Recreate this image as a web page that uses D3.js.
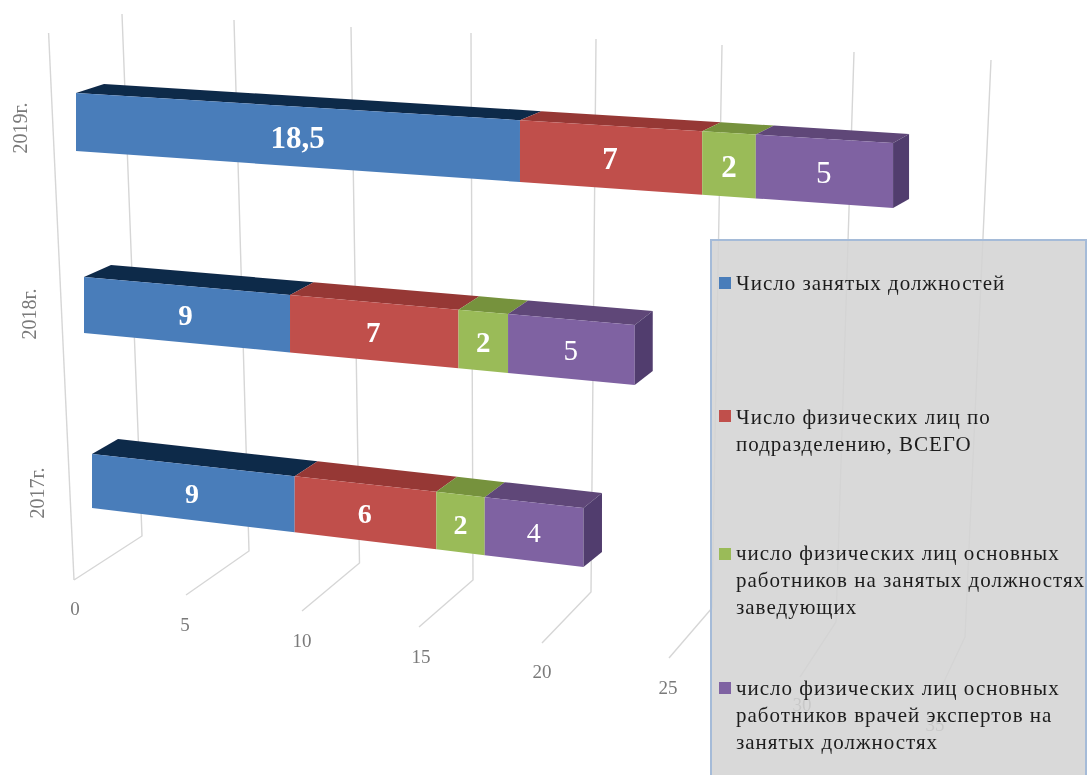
<!DOCTYPE html>
<html><head><meta charset="utf-8">
<script src="https://cdn.jsdelivr.net/npm/d3@7/dist/d3.min.js"></script>
<style>html,body{margin:0;padding:0;background:#fff;overflow:hidden}svg{display:block}text{font-family:"Liberation Serif",serif}</style>
</head><body><svg id="c" width="1088" height="775"></svg>
<script>
// Data
const years = ["2017г.", "2018г.", "2019г."];
const seriesNames = ["Число занятых должностей","Число физических лиц по подразделению, ВСЕГО","число физических лиц основных работников на занятых должностях заведующих","число физических лиц основных работников врачей экспертов на занятых должностях"];
const occupied  = [9, 9, 18.5];
const persons   = [6, 7, 7];
const heads     = [2, 2, 2];
const experts   = [4, 5, 5];
const valueLabels = [["9","6","2","4"],["9","7","2","5"],["18,5","7","2","5"]];
const axisTicks = [0, 5, 10, 15, 20, 25, 30, 35];

// Colours
const frontCol = ["#4a7dba","#c04f4c","#9abb58","#7f62a2"];
const topCol   = ["#11294a","#963936","#76923c","#5e4678"];
const sideCol  = "#513e6e";
const legendLines = [["Число занятых должностей"],["Число физических лиц по","подразделению, ВСЕГО"],["число физических лиц основных","работников на занятых должностях","заведующих"],["число физических лиц основных","работников врачей экспертов на","занятых должностях"]];

// Layout: perspective frame
const persp = 0.00306;
const rowGeom = [
 {x0:92, k:21.9,  top:[454,508], bot:[508,567], backDx:[26,18.5], backDy:[-15,-15], fs:28, lx:38, ly:493, labelDy:1},
 {x0:84, k:22.26, top:[277,325], bot:[333,385], backDx:[27,18],   backDy:[-12,-14], fs:29, lx:29.5, ly:314, labelDy:1},
 {x0:76, k:22.64, top:[93,143],  bot:[151,208], backDx:[28,16],   backDy:[-9,-9],   fs:31, lx:21, ly:128, labelDy:2}
];
const wallTopX = d3.scaleLinear().domain(axisTicks).range([122,234,351,471,596,722,854,991]);
const wallTopY = d3.scaleLinear().domain(axisTicks).range([14,20,27,33,39,45,52,60]);
const wallBotX = d3.scaleLinear().domain(axisTicks).range([142,249,359.5,473,591,712,836,965]);
const wallBotY = d3.scaleLinear().domain(axisTicks).range([536,551,563,580,592,608,622,637]);
const floorX   = d3.scaleLinear().domain(axisTicks).range([74,186,302,419,542,669,800,940]);
const floorY   = d3.scaleLinear().domain(axisTicks).range([580,595,611,627,643,658,677,690]);
const labelX   = d3.scaleLinear().domain(axisTicks).range([75,185,302,421,542,668,802,935]);
const labelY   = d3.scaleLinear().domain(axisTicks).range([615,631,647,663,678,694,711,731]);

const svg = d3.select("#c");
const defs = svg.append("defs");
defs.append("filter").attr("id","soft").attr("x",0).attr("y",0).attr("width","100%").attr("height","100%")
  .append("feGaussianBlur").attr("stdDeviation",0.55);
const root = svg.append("g").attr("filter","url(#soft)");
root.append("rect").attr("width",1088).attr("height",775).attr("fill","#fff");
const line = d3.line();
const gridCol = "#d6d6d6", axisText = "#7a7a7a";

// grid
const grid = root.append("g").attr("fill","none").attr("stroke",gridCol).attr("stroke-width",1.4);
grid.selectAll("path.w").data(axisTicks).join("path")
  .attr("d",t=>line([[wallTopX(t),wallTopY(t)],[wallBotX(t),wallBotY(t)],[floorX(t),floorY(t)]]));
grid.append("path").attr("d",line([[48.6,33],[floorX(0),floorY(0)]]));

// axis labels
root.append("g").selectAll("text").data(axisTicks).join("text")
  .attr("x",labelX).attr("y",labelY).attr("text-anchor","middle")
  .attr("font-size",19).attr("fill",axisText).text(d=>d);

// bars
const stacks = years.map((y,i)=>[occupied[i],persons[i],heads[i],experts[i]]);
stacks.forEach((vals,r)=>{
  const g = rowGeom[r];
  const total = d3.sum(vals);
  const px = v => g.x0 + v*g.k/(1-persp*v);
  const tY = d3.scaleLinear().domain([g.x0,px(total)]).range(g.top);
  const bY = d3.scaleLinear().domain([g.x0,px(total)]).range(g.bot);
  const dX = d3.scaleLinear().domain([g.x0,px(total)]).range(g.backDx);
  const dY = d3.scaleLinear().domain([g.x0,px(total)]).range(g.backDy);
  const gr = root.append("g");
  let cum = 0;
  vals.forEach((v,s)=>{
    const a=px(cum), b=px(cum+v);
    gr.append("path").attr("fill",topCol[s]).attr("d",line([[a,tY(a)],[b,tY(b)],[b+dX(b),tY(b)+dY(b)],[a+dX(a),tY(a)+dY(a)]])+"Z");
    gr.append("path").attr("fill",frontCol[s]).attr("d",line([[a,tY(a)],[b,tY(b)],[b,bY(b)],[a,bY(a)]])+"Z");
    cum+=v;
  });
  cum = 0;
  vals.forEach((v,s)=>{
    const m=px(cum+v/2);
    const shift = (valueLabels[r][s].length>1) ? 6 : 0;
    gr.append("text").attr("x",m+shift).attr("y",(tY(m)+bY(m))/2+g.fs*0.33+g.labelDy)
      .attr("text-anchor","middle").attr("fill","#fff")
      .attr("font-size",g.fs).attr("font-weight",s===3?"normal":"bold").text(valueLabels[r][s]);
    cum+=v;
  });
  const e=px(total);
  gr.append("path").attr("fill",sideCol).attr("d",line([[e,tY(e)],[e+dX(e),tY(e)+dY(e)],[e+dX(e),bY(e)+dY(e)],[e,bY(e)]])+"Z");
  root.append("text").attr("transform",`translate(${g.lx+6},${g.ly}) rotate(-90)`)
    .attr("text-anchor","middle").attr("font-size",20).attr("fill",axisText).text(years[r]);
});

// legend
const lg = root.append("g");
lg.append("rect").attr("x",711).attr("y",240).attr("width",375).attr("height",545)
  .attr("fill","#d3d3d3").attr("fill-opacity",0.87).attr("stroke","#a5bbd8").attr("stroke-width",2);
const itemY = d3.scaleOrdinal().domain(seriesNames).range([290,424,560,695]);
const swatchY = d3.scaleOrdinal().domain(seriesNames).range([277,410,548,682]);
seriesNames.forEach((n,i)=>{
  lg.append("rect").attr("x",719).attr("y",swatchY(n)).attr("width",12).attr("height",12).attr("fill",frontCol[i]);
  legendLines[i].forEach((t,j)=>{
    lg.append("text").attr("x",736).attr("y",itemY(n)+j*27).attr("font-size",21).attr("letter-spacing",1).attr("fill","#1c1c1c").text(t);
  });
});
</script></body></html>
